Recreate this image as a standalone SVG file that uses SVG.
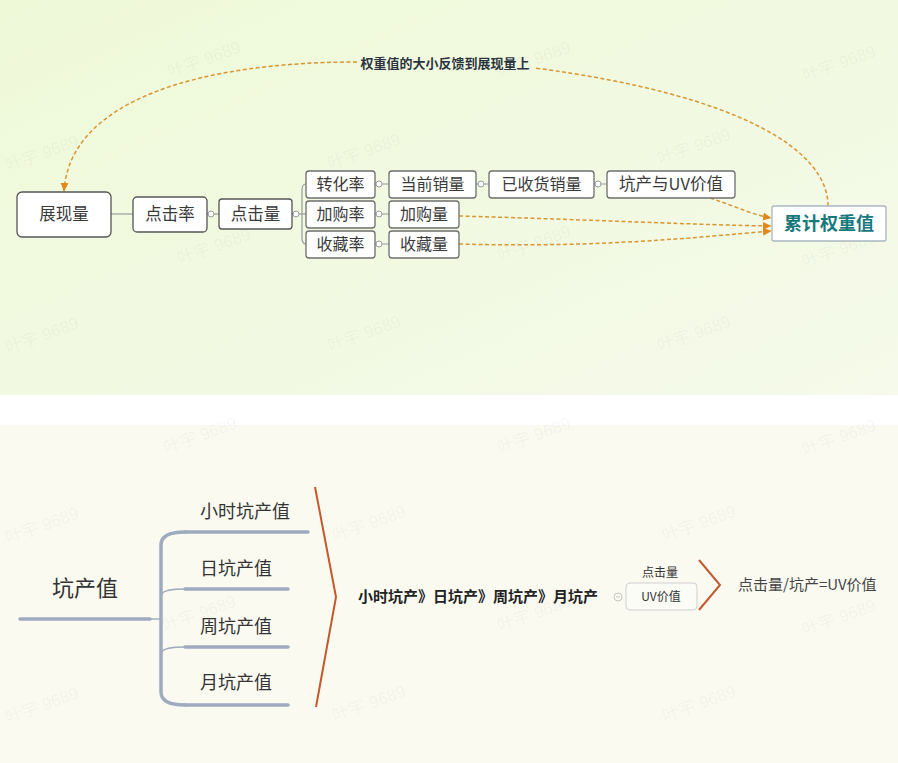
<svg xmlns="http://www.w3.org/2000/svg" width="898" height="763" viewBox="0 0 898 763">
<defs>
<linearGradient id="bgTop" x1="0" y1="0" x2="1" y2="1">
<stop offset="0" stop-color="#eef9d8"/>
<stop offset="1" stop-color="#f5faea"/>
</linearGradient>
<marker id="arr" markerUnits="userSpaceOnUse" markerWidth="9" markerHeight="9" viewBox="0 0 9 9" refX="8" refY="4.5" orient="auto">
<path d="M0,0.5 L8.5,4.5 L0,8.5 z" fill="#e0891f"/>
</marker>
<style>
.node rect{fill:#ffffff;stroke:#6e6e6e;stroke-width:1.3}
.t{font-family:"Noto Sans CJK SC","Noto Sans",sans-serif;fill:#3a3a3a}
.c{fill:#ffffff;stroke:#9a9a9a;stroke-width:1}
.ln{stroke:#9a9a9a;stroke-width:1.2;fill:none}
.dash{stroke:#d99530;stroke-width:1.5;stroke-dasharray:4 2.5;fill:none}
.br{stroke:#9eaabd;stroke-width:3.5;fill:none;stroke-linecap:round}
.brt{stroke:#9eaabd;stroke-width:1.4;fill:none}
.red{stroke:#c25a2e;stroke-width:2;fill:none}
.wm{font-family:"Liberation Sans","Noto Sans CJK SC",sans-serif;font-size:17px;fill:#000;fill-opacity:0.045}
</style>
</defs>
<rect x="0" y="0" width="898" height="395" fill="url(#bgTop)"/>
<rect x="0" y="395" width="898" height="30" fill="#ffffff"/>
<rect x="0" y="425" width="898" height="338" fill="#fafaf1"/>

<g id="watermarks">
<text class="wm" transform="translate(170,78) rotate(-20)">叶宇 9689</text>
<text class="wm" transform="translate(500,78) rotate(-20)">叶宇 9689</text>
<text class="wm" transform="translate(805,82) rotate(-20)">叶宇 9689</text>
<text class="wm" transform="translate(8,172) rotate(-20)">叶宇 9689</text>
<text class="wm" transform="translate(330,170) rotate(-20)">叶宇 9689</text>
<text class="wm" transform="translate(660,165) rotate(-20)">叶宇 9689</text>
<text class="wm" transform="translate(180,265) rotate(-20)">叶宇 9689</text>
<text class="wm" transform="translate(500,262) rotate(-20)">叶宇 9689</text>
<text class="wm" transform="translate(805,268) rotate(-20)">叶宇 9689</text>
<text class="wm" transform="translate(8,354) rotate(-20)">叶宇 9689</text>
<text class="wm" transform="translate(330,352) rotate(-20)">叶宇 9689</text>
<text class="wm" transform="translate(660,352) rotate(-20)">叶宇 9689</text>
<text class="wm" transform="translate(166,454) rotate(-20)">叶宇 9689</text>
<text class="wm" transform="translate(500,454) rotate(-20)">叶宇 9689</text>
<text class="wm" transform="translate(805,456) rotate(-20)">叶宇 9689</text>
<text class="wm" transform="translate(8,544) rotate(-20)">叶宇 9689</text>
<text class="wm" transform="translate(335,542) rotate(-20)">叶宇 9689</text>
<text class="wm" transform="translate(665,542) rotate(-20)">叶宇 9689</text>
<text class="wm" transform="translate(165,632) rotate(-20)">叶宇 9689</text>
<text class="wm" transform="translate(500,632) rotate(-20)">叶宇 9689</text>
<text class="wm" transform="translate(805,636) rotate(-20)">叶宇 9689</text>
<text class="wm" transform="translate(8,724) rotate(-20)">叶宇 9689</text>
<text class="wm" transform="translate(335,722) rotate(-20)">叶宇 9689</text>
<text class="wm" transform="translate(665,722) rotate(-20)">叶宇 9689</text>
</g>

<g id="connectors">
<path class="ln" d="M111,214 H133"/>
<path class="ln" d="M207,214 H219"/>
<path class="ln" d="M292,214 H306"/>
<path class="ln" d="M306,184 Q302,184 302,190 V238 Q302,244 306,244"/>
<path class="ln" d="M375,184 H389 M375,214 H389 M375,244 H389 M476,184 H489 M594,184 H607"/>
<circle class="c" cx="211" cy="214" r="3"/>
<circle class="c" cx="296" cy="214" r="3"/>
<circle class="c" cx="379" cy="184" r="3"/>
<circle class="c" cx="379" cy="214" r="3"/>
<circle class="c" cx="379" cy="244" r="3"/>
<circle class="c" cx="481" cy="184" r="3"/>
<circle class="c" cx="598" cy="184" r="3"/>
<path class="dash" d="M828,206 C828,150 740,95 535,68"/>
<path class="dash" d="M357,62 C200,62 70,100 64,191" marker-end="url(#arr)"/>
<path class="dash" d="M710,198 C740,208 750,214 771,218" marker-end="url(#arr)"/>
<path class="dash" d="M459,216 C600,220 700,225 771,226" marker-end="url(#arr)"/>
<path class="dash" d="M459,244 C600,248 700,237 771,231" marker-end="url(#arr)"/>
<text x="445" y="68" text-anchor="middle" class="t" style="font-size:13px;font-weight:bold;fill:#2b3440">权重值的大小反馈到展现量上</text>
</g>

<g id="n-zhanxian" class="node"><rect x="17" y="192" width="94" height="45" rx="5" style="stroke:#555"/><text x="64" y="220" text-anchor="middle" class="t" style="font-size:16.5px">展现量</text></g>
<g id="n-djl" class="node"><rect x="133" y="197" width="74" height="35" rx="4" style="stroke:#555"/><text x="170" y="220" text-anchor="middle" class="t" style="font-size:16.5px">点击率</text></g>
<g id="n-djliang" class="node"><rect x="219" y="199" width="73" height="30" rx="3" style="stroke:#555"/><text x="255.5" y="220" text-anchor="middle" class="t" style="font-size:16.5px">点击量</text></g>
<g id="n-zhl" class="node"><rect x="306" y="171" width="69" height="27" rx="3"/><text x="340.5" y="190" text-anchor="middle" class="t" style="font-size:16px">转化率</text></g>
<g id="n-jgl" class="node"><rect x="306" y="201" width="69" height="27" rx="3"/><text x="340.5" y="220" text-anchor="middle" class="t" style="font-size:16px">加购率</text></g>
<g id="n-scl" class="node"><rect x="306" y="231" width="69" height="27" rx="3"/><text x="340.5" y="250" text-anchor="middle" class="t" style="font-size:16px">收藏率</text></g>
<g id="n-dqxl" class="node"><rect x="389" y="171" width="87" height="27" rx="3"/><text x="432.5" y="190" text-anchor="middle" class="t" style="font-size:16px">当前销量</text></g>
<g id="n-yshxl" class="node"><rect x="489" y="171" width="105" height="27" rx="3"/><text x="541.5" y="190" text-anchor="middle" class="t" style="font-size:16px">已收货销量</text></g>
<g id="n-kcuv" class="node"><rect x="607" y="171" width="128" height="27" rx="3"/><text x="671" y="190" text-anchor="middle" class="t" style="font-size:16.5px">坑产与UV价值</text></g>
<g id="n-jgliang" class="node"><rect x="389" y="201" width="70" height="27" rx="3"/><text x="424" y="220" text-anchor="middle" class="t" style="font-size:16px">加购量</text></g>
<g id="n-scliang" class="node"><rect x="389" y="231" width="70" height="27" rx="3"/><text x="424" y="250" text-anchor="middle" class="t" style="font-size:16px">收藏量</text></g>
<g id="n-ljqzz" class="node"><rect x="772" y="206" width="114" height="35" rx="2" style="stroke:#a9b6c2"/><text x="829" y="230" text-anchor="middle" class="t" style="font-size:18px;font-weight:bold;fill:#17797c">累计权重值</text></g>

<g id="bottom-connectors">
<path class="br" d="M20,619 H150"/>
<path class="brt" d="M150,619 H161"/>
<path class="br" d="M185,532 Q161,532 161,545 V692 Q161,705 185,705"/>
<path class="brt" d="M162,594 Q164,589 185,589"/>
<path class="brt" d="M162,652 Q164,647 185,647"/>
<path class="br" d="M185,532 H308"/>
<path class="br" d="M185,589 H288"/>
<path class="br" d="M185,647 H288"/>
<path class="br" d="M185,705 H288"/>
<path class="red" d="M315,487 L336,597 L316,707"/>
<circle cx="618" cy="597" r="4" fill="#fafaf1" stroke="#c4c4c4" stroke-width="1"/>
<path d="M616,597 H620" stroke="#c4c4c4" stroke-width="1"/>
<path class="red" d="M699,560 L720,585 L699,610"/>
</g>

<g id="b-kcz"><text x="52" y="596" class="t" style="font-size:22px;fill:#333">坑产值</text></g>
<g id="b-xs"><text x="200" y="518" class="t" style="font-size:18px;fill:#333">小时坑产值</text></g>
<g id="b-ri"><text x="200" y="575" class="t" style="font-size:18px;fill:#333">日坑产值</text></g>
<g id="b-zhou"><text x="200" y="633" class="t" style="font-size:18px;fill:#333">周坑产值</text></g>
<g id="b-yue"><text x="200" y="689" class="t" style="font-size:18px;fill:#333">月坑产值</text></g>
<g id="b-order"><text x="358" y="602" class="t" style="font-size:15px;font-weight:bold;fill:#222">小时坑产》日坑产》周坑产》月坑产</text></g>
<g id="b-uv"><rect x="626" y="583" width="71" height="27" rx="4" fill="#fcfcf6" stroke="#cfcfcf" stroke-width="1"/><text x="660" y="577" text-anchor="middle" class="t" style="font-size:12px;fill:#333">点击量</text><text x="661" y="601" text-anchor="middle" class="t" style="font-size:12px;fill:#333">UV价值</text></g>
<g id="b-formula"><text x="738" y="590" class="t" style="font-size:15px;fill:#444">点击量/坑产=UV价值</text></g>
</svg>
